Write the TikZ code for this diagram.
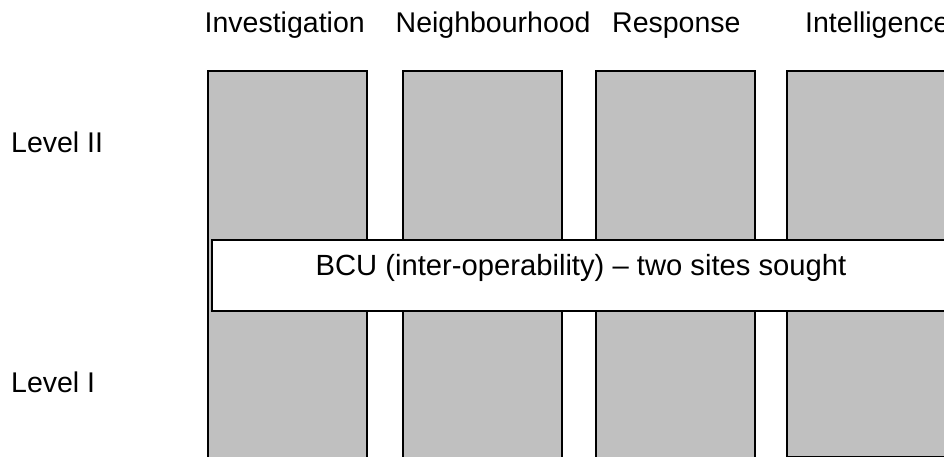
\documentclass[tikz,border=0pt]{standalone}
\usepackage{fontspec}
\setmainfont{Liberation Sans}
\begin{document}
\begin{tikzpicture}[x=1pt,y=-1pt,
  colbox/.style={draw=black,fill={rgb,255:red,192;green,192;blue,192},line width=1.6pt,inner sep=0pt,anchor=north west},
  bandbox/.style={draw=black,fill=white,line width=1.6pt,inner sep=0pt,anchor=north west},
  lbl/.style={inner sep=0pt,anchor=base west,font=\fontsize{28.5}{34}\selectfont}]
\useasboundingbox (0,0) rectangle (944,457);
\clip (0,0) rectangle (944,457);
\node[colbox,minimum width=159pt,minimum height=420pt] (c1) at (207,70) {};
\node[colbox,minimum width=159pt,minimum height=420pt] (c2) at (402,70) {};
\node[colbox,minimum width=159pt,minimum height=420pt] (c3) at (595,70) {};
\node[colbox,minimum width=190pt,minimum height=386pt] (c4) at (786,70) {};
\node[bandbox,minimum width=760pt,minimum height=71pt] (band) at (211,239) {};
\node[lbl,anchor=base,font=\fontsize{29.2}{34}\selectfont] (bt) at (581,275) {BCU (inter-operability) – two sites sought};
\node[lbl] (h1) at (204.5,32.5) {Investigation};
\node[lbl] (h2) at (395.5,32.5) {Neighbourhood};
\node[lbl] (h3) at (612,32.5) {Response};
\node[lbl] (h4) at (805,32.5) {Intelligence};
\node[lbl] (l2) at (11,153) {Level II};
\node[lbl] (l1) at (11,392) {Level I};
\end{tikzpicture}
\end{document}
